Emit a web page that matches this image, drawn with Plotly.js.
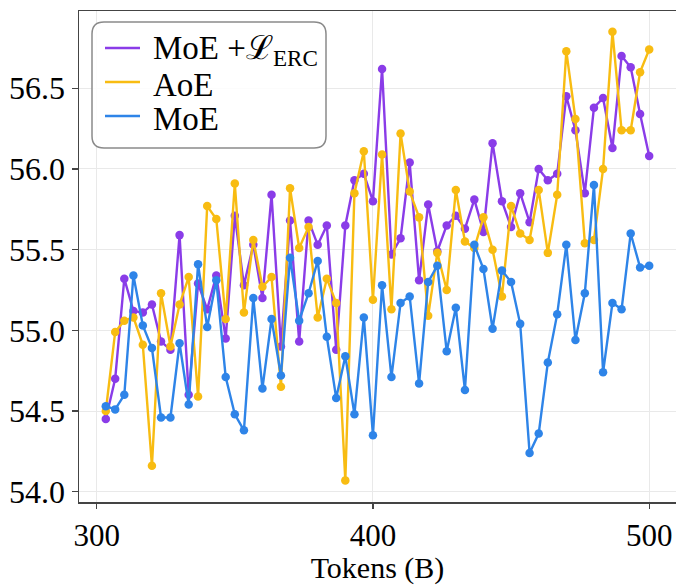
<!DOCTYPE html>
<html>
<head>
<meta charset="utf-8">
<script src="https://cdn.plot.ly/plotly-3.0.1.min.js"></script>
<style>html,body{margin:0;padding:0;background:#fff;}#chart{width:676px;height:585px;}</style>
</head>
<body>
<div id="chart"></div>
<script>
const tokens = [303.3, 306.7, 310.0, 313.3, 316.7, 320.0, 323.3, 326.7, 330.0, 333.3,
  336.7, 340.0, 343.3, 346.7, 350.0, 353.3, 356.7, 360.0, 363.3, 366.7,
  370.0, 373.3, 376.7, 380.0, 383.3, 386.7, 390.0, 393.3, 396.7, 400.0,
  403.3, 406.7, 410.0, 413.3, 416.7, 420.0, 423.3, 426.7, 430.0, 433.3,
  436.7, 440.0, 443.3, 446.7, 450.0, 453.3, 456.7, 460.0, 463.3, 466.7,
  470.0, 473.3, 476.7, 480.0, 483.3, 486.7, 490.0, 493.3, 496.7, 500.0];

const moeErc = [54.45, 54.70, 55.32, 55.12, 55.11, 55.16, 54.93, 54.88, 55.59, 54.60,
  55.29, 55.13, 55.34, 54.95, 55.71, 55.28, 55.53, 55.20, 55.84, 54.90,
  55.68, 54.93, 55.68, 55.53, 55.65, 54.88, 55.65, 55.93, 55.97, 55.80,
  56.62, 55.47, 55.57, 56.04, 55.31, 55.78, 55.49, 55.65, 55.71, 55.63,
  55.81, 55.61, 56.16, 55.80, 55.64, 55.85, 55.67, 56.00, 55.93, 55.97,
  56.45, 56.24, 55.85, 56.38, 56.44, 56.13, 56.70, 56.63, 56.34, 56.08];

const aoe = [54.50, 54.99, 55.06, 55.08, 54.91, 54.16, 55.23, 54.90, 55.16, 55.33,
  54.59, 55.77, 55.69, 55.07, 55.91, 55.11, 55.56, 55.27, 55.33, 54.65,
  55.88, 55.51, 55.64, 55.08, 55.32, 55.17, 54.07, 55.85, 56.11, 55.19,
  56.09, 55.13, 56.22, 55.86, 55.70, 55.09, 55.48, 55.25, 55.87, 55.55,
  55.51, 55.70, 55.50, 55.21, 55.77, 55.60, 55.56, 55.87, 55.48, 55.84,
  56.73, 56.31, 55.54, 55.56, 56.00, 56.85, 56.24, 56.24, 56.60, 56.74];

const moe = [54.53, 54.51, 54.60, 55.34, 55.03, 54.89, 54.46, 54.46, 54.92, 54.54,
  55.41, 55.02, 55.31, 54.71, 54.48, 54.38, 55.20, 54.64, 55.07, 54.72,
  55.45, 55.06, 55.23, 55.43, 54.96, 54.58, 54.84, 54.48, 55.08, 54.35,
  55.28, 54.71, 55.17, 55.21, 54.67, 55.30, 55.40, 54.87, 55.14, 54.63,
  55.53, 55.38, 55.01, 55.37, 55.30, 55.04, 54.24, 54.36, 54.80, 55.10,
  55.53, 54.94, 55.23, 55.90, 54.74, 55.17, 55.13, 55.60, 55.39, 55.40];

const seriesNames = ['MoE +ℒ<sub>ERC</sub>', 'AoE', 'MoE'];
const seriesValues = [moeErc, aoe, moe];
const seriesColors = ['#8A3CE8', '#F8BC12', '#2E84E8'];
const xTicks = [300, 400, 500];
const yTicks = [54.0, 54.5, 55.0, 55.5, 56.0, 56.5];

const traces = seriesValues.map((vals, k) => ({
  x: tokens, y: vals, type: 'scatter', mode: 'lines+markers',
  name: seriesNames[k], showlegend: false,
  line: {color: seriesColors[k], width: 2.4},
  marker: {color: seriesColors[k], size: 8.5}
}));

// custom legend (matplotlib-like: rounded box, tight rows, line-only keys)
const plotL = 79, plotW = 597, plotT = 11, plotH = 491;
const px = v => (v - plotL) / plotW;
const py = v => (plotT + plotH - v) / plotH;
const bx0 = px(92), bx1 = px(326), byT = py(22), byB = py(148);
const rx = 12 / plotW, ry = 12 / plotH;
const boxPath = `M ${bx0 + rx},${byT} L ${bx1 - rx},${byT} Q ${bx1},${byT} ${bx1},${byT - ry} ` +
  `L ${bx1},${byB + ry} Q ${bx1},${byB} ${bx1 - rx},${byB} L ${bx0 + rx},${byB} ` +
  `Q ${bx0},${byB} ${bx0},${byB + ry} L ${bx0},${byT - ry} Q ${bx0},${byT} ${bx0 + rx},${byT} Z`;
const keyRowsY = [48, 82, 116];
const textRowsY = [51, 85, 119];

const fontFam = '"Liberation Serif", "Times New Roman", serif';
const shapes = [{
  type: 'path', xref: 'paper', yref: 'paper', path: boxPath,
  fillcolor: 'rgba(255,255,255,0.85)', line: {color: '#8a8a8a', width: 1.5}, layer: 'above'
}];
const annotations = [];
seriesNames.forEach((nm, k) => {
  shapes.push({
    type: 'line', xref: 'paper', yref: 'paper',
    x0: px(105), x1: px(140), y0: py(keyRowsY[k]), y1: py(keyRowsY[k]),
    line: {color: seriesColors[k], width: 2.6}, layer: 'above'
  });
  annotations.push({
    xref: 'paper', yref: 'paper', x: px(151), y: py(textRowsY[k]),
    xanchor: 'left', yanchor: 'middle', showarrow: false, text: nm,
    font: {family: fontFam, size: 33, color: '#000'}
  });
});

const layout = {
  width: 676, height: 585,
  margin: {l: 79, r: 0, t: 11, b: 83},
  paper_bgcolor: '#fff', plot_bgcolor: '#fff',
  font: {family: fontFam, color: '#000', size: 32},
  showlegend: false,
  shapes: shapes,
  annotations: annotations,
  xaxis: {
    range: [293.6, 509.7], tickvals: xTicks, ticktext: xTicks.map(String),
    showgrid: true, gridcolor: '#e9e9e9', gridwidth: 1,
    showline: true, linecolor: '#444', linewidth: 1.5, mirror: true,
    ticks: 'outside', ticklen: 5, tickcolor: '#444', tickwidth: 1.2,
    tickfont: {family: fontFam, size: 31, color: '#000'},
    zeroline: false,
    title: {text: 'Tokens (B)', font: {family: fontFam, size: 30, color: '#000'}, standoff: 11}
  },
  yaxis: {
    range: [53.936, 56.979], tickvals: yTicks, ticktext: yTicks.map(v => v.toFixed(1)),
    showgrid: true, gridcolor: '#e9e9e9', gridwidth: 1,
    showline: true, linecolor: '#444', linewidth: 1.5, mirror: false,
    ticks: 'outside', ticklen: 6, tickcolor: '#444', tickwidth: 1.2,
    tickfont: {family: fontFam, size: 32, color: '#000'},
    zeroline: false
  }
};

Plotly.newPlot('chart', traces, layout, {displayModeBar: false, staticPlot: true});
</script>
</body>
</html>
